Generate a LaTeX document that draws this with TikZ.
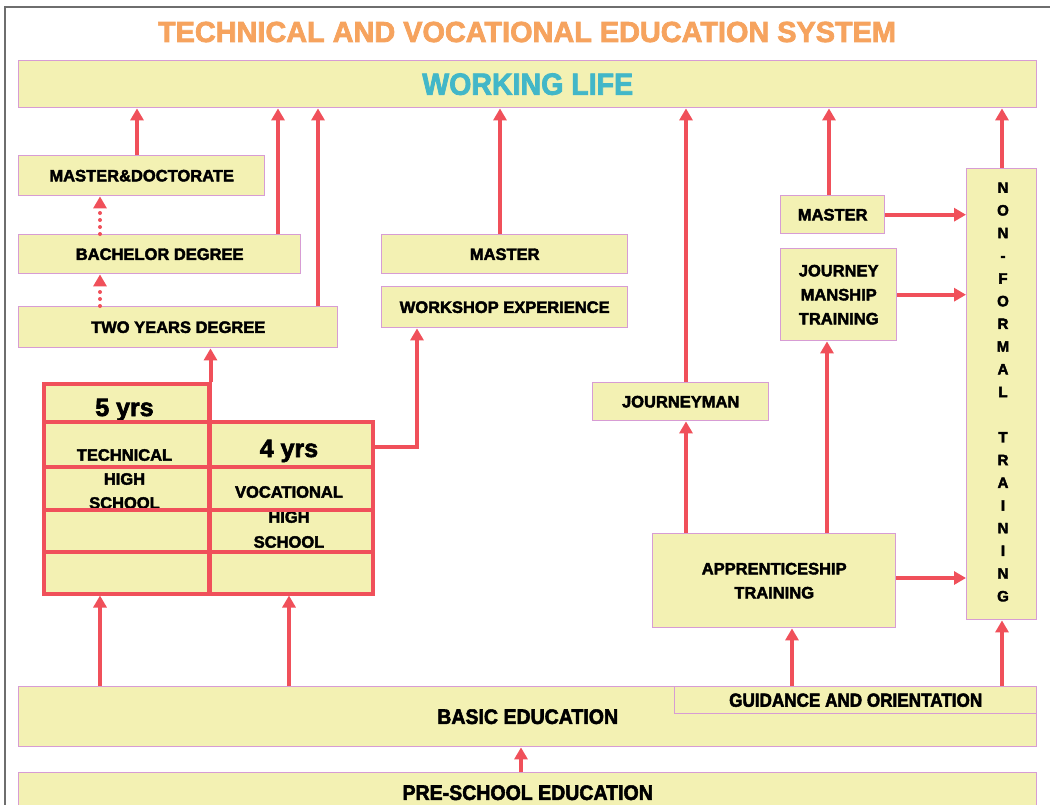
\documentclass[tikz,border=0pt]{standalone}
\usepackage{fontspec}
\setmainfont{Liberation Sans}[BoldFeatures={FakeBold=2.5}]
\newfontfamily\condf{Liberation Sans}[FakeStretch=0.93,BoldFeatures={FakeBold=2.5}]
\newfontfamily\ttlf{Liberation Sans}[FakeStretch=0.995,BoldFeatures={FakeBold=2.5}]
\newfontfamily\gdf{Liberation Sans}[FakeStretch=0.9,BoldFeatures={FakeBold=2.5}]
\usetikzlibrary{arrows.meta}
\definecolor{boxfill}{HTML}{F3F1B3}
\definecolor{boxline}{HTML}{D79CD4}
\definecolor{rd}{HTML}{F0505A}
\definecolor{ttl}{HTML}{F6A35E}
\definecolor{cyn}{HTML}{42B7C8}
\definecolor{frm}{HTML}{6E6E6E}
\newcommand\lab{\bfseries\fontsize{16.5}{20}\selectfont}
\newcommand\ttlfont{\ttlf\bfseries\fontsize{29}{29}\selectfont}
\newcommand\wlfont{\condf\bfseries\fontsize{30.7}{31}\selectfont}
\newcommand\condmid{\condf\bfseries\fontsize{21}{22}\selectfont}
\newcommand\condsm{\gdf\bfseries\fontsize{19}{20}\selectfont}
\begin{document}
\begin{tikzpicture}[x=1pt,y=-1pt,
 box/.style={draw=boxline, fill=boxfill, line width=1.4pt, inner sep=0pt, anchor=north west, align=center, font=\lab},
 gbox/.style={draw=rd, fill=boxfill, line width=3.5pt, inner sep=0pt, anchor=north west},
 arr/.style={draw=rd, line width=4pt, -{Triangle[length=12pt,width=13pt]}},
 darr/.style={arr, dash pattern=on 0pt off 7pt, line cap=round},
 gl/.style={draw=rd, line width=3.5pt},
 lab/.style={font=\lab, align=center, inner sep=0pt}]
\useasboundingbox (0,0) rectangle (1050,804);
\fill[white] (0,0) rectangle (1050,804);
% frame
\draw[frm, line width=2pt] (5,820) -- (5,7) -- (1060,7);
% title
\node[font=\ttlfont, text=ttl, inner sep=0pt] (title) at (527,32) {TECHNICAL AND VOCATIONAL EDUCATION SYSTEM};
% boxes
\node[box, minimum width=1018pt, minimum height=47pt, font=\wlfont, text=cyn] (wl) at (18,60) {WORKING LIFE};
\node[box, minimum width=246pt, minimum height=40pt] (md) at (18,155) {MASTER\&DOCTORATE};
\node[box, minimum width=282pt, minimum height=39pt] (bd) at (18,234) {BACHELOR DEGREE};
\node[box, minimum width=319pt, minimum height=41pt] (tyd) at (18,306) {TWO YEARS DEGREE};
\node[box, minimum width=246pt, minimum height=39pt] (mm) at (381,234) {MASTER};
\node[box, minimum width=246pt, minimum height=41pt] (wse) at (381,286) {WORKSHOP EXPERIENCE};
\node[box, minimum width=176pt, minimum height=38pt] (jm) at (592,382) {JOURNEYMAN};
\node[box, minimum width=243pt, minimum height=94pt, font=\bfseries\fontsize{16.5}{24}\selectfont] (app) at (652,533) {APPRENTICESHIP\\TRAINING};
\node[box, minimum width=104pt, minimum height=38pt] (mr) at (780,195) {MASTER};
\node[box, minimum width=116pt, minimum height=92pt, font=\bfseries\fontsize{16.5}{24}\selectfont] (jmt) at (780,248) {JOURNEY\\MANSHIP\\TRAINING};
\node[box, minimum width=70pt, minimum height=451pt] (nft) at (966,168) {};
\node[lab, font=\bfseries\fontsize{15}{22.7}\selectfont] (nftt) at (1003,392) {N\\O\\N\\-\\F\\O\\R\\M\\A\\L\\ \\T\\R\\A\\I\\N\\I\\N\\G};
\node[box, minimum width=1018pt, minimum height=60pt, font=\condmid] (basic) at (18,686) {BASIC EDUCATION};
\node[box, minimum width=362pt, minimum height=27pt, font=\condsm] (guid) at (674,686) {GUIDANCE AND ORIENTATION};
\node[box, minimum width=1018pt, minimum height=40pt, font=\condmid] (pre) at (18,772) {PRE-SCHOOL EDUCATION};
% high schools
\node[gbox, minimum width=165pt, minimum height=210pt] (ths) at (42,382) {};
\node[gbox, minimum width=164pt, minimum height=172pt] (vhs) at (207,420) {};
\node[lab, font=\bfseries\fontsize{25}{25}\selectfont, anchor=base] (t5) at (124.5,416) {5 yrs};
\node[lab, font=\bfseries\fontsize{25}{25}\selectfont, anchor=base] (t4) at (289,457) {4 yrs};
\node[lab, font=\bfseries\fontsize{16.5}{24}\selectfont] (tht) at (124.5,479) {TECHNICAL\\HIGH\\SCHOOL};
\node[lab, font=\bfseries\fontsize{16.5}{25}\selectfont] (vht) at (289,517) {VOCATIONAL\\HIGH\\SCHOOL};
\foreach \yy in {422,467,510,552} \draw[gl] (ths.west |- 0,\yy) -- (ths.east |- 0,\yy);
\foreach \yy in {467,510,552} \draw[gl] (vhs.west |- 0,\yy) -- (vhs.east |- 0,\yy);
\draw[gl] (ths.north east) -- (ths.south east);
% arrows to working life
\draw[arr] (md.north -| 137,0) -- (wl.south -| 137,0);
\draw[arr] (bd.north -| 278,0) -- (wl.south -| 278,0);
\draw[arr] (tyd.north -| 318,0) -- (wl.south -| 318,0);
\draw[arr] (mm.north -| 500,0) -- (wl.south -| 500,0);
\draw[arr] (jm.north -| 686,0) -- (wl.south -| 686,0);
\draw[arr] (mr.north -| 829,0) -- (wl.south -| 829,0);
\draw[arr] (nft.north -| 1002,0) -- (wl.south -| 1002,0);
% dotted
\draw[darr] (bd.north -| 100,0) -- (md.south -| 100,0);
\draw[darr] (tyd.north -| 100,0) -- (bd.south -| 100,0);
% schools
\draw[arr] (ths.north east) -- (tyd.south -| ths.north east);
\draw[arr] (vhs.east |- 0,447) -| (wse.south -| 417,0);
\draw[arr] (basic.north -| 100,0) -- (ths.south -| 100,0);
\draw[arr] (basic.north -| 289,0) -- (vhs.south -| 289,0);
% apprenticeship
\draw[arr] (app.north -| 686,0) -- (jm.south -| 686,0);
\draw[arr] (app.north -| 827,0) -- (jmt.south -| 827,0);
\draw[arr] (app.east |- 0,578) -- (nft.west |- 0,578);
\draw[arr] (mr.east) -- (nft.west |- mr.east);
\draw[arr] (jmt.east) -- (nft.west |- jmt.east);
\draw[arr] (guid.north -| 792,0) -- (app.south -| 792,0);
\draw[arr] (guid.north -| 1002,0) -- (nft.south -| 1002,0);
\draw[arr] (pre.north -| 521,0) -- (basic.south -| 521,0);
\end{tikzpicture}
\end{document}
